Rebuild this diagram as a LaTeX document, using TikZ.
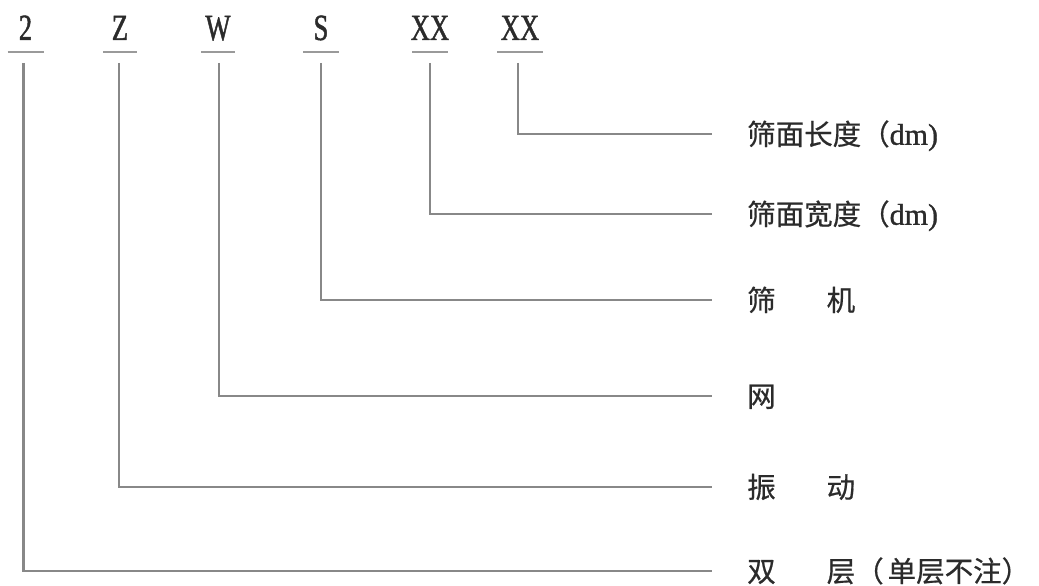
\documentclass[tikz,border=0pt]{standalone}
\usepackage{fontspec}
\newfontfamily\cjk[FakeBold=0.6]{Noto Sans CJK SC}
\newfontfamily\codefont[FakeStretch=0.72,FakeBold=1.2]{Liberation Serif}
\newfontfamily\latfont[FakeBold=1]{Liberation Serif}
\usetikzlibrary{calc}
\definecolor{txt}{HTML}{2B2B2B}
\definecolor{ln}{HTML}{888888}
\definecolor{ul}{HTML}{9A9A9A}
\begin{document}
\begin{tikzpicture}[x=1pt,y=-1pt,
  code/.style={font=\codefont\fontsize{37}{37}\selectfont, text=txt, inner sep=0pt, text height=25pt, text depth=0pt, anchor=center},
  lab/.style={font=\cjk\fontsize{28.5}{28.5}\selectfont, text=txt, inner sep=0pt, anchor=west, text height=25pt, text depth=3.5pt},
  uline/.style={draw=ul, line width=1.8pt},
  conn/.style={draw=ln, line width=2.3pt}]
\useasboundingbox (0,0) rectangle (1039,586);
% code letters
\node[code] (c1) at (25.5,27.5) {2};
\node[code] (c2) at (120,27.5) {Z};
\node[code] (c3) at (218,27.5) {W};
\node[code] (c4) at (321,27.5) {S};
\node[code] (c5) at (430,27.5) {XX};
\node[code] (c6) at (520,27.5) {XX};
% underlines
\foreach \c/\w in {c1/18,c2/17,c3/17,c4/18,c5/18,c6/23}{
  \draw[uline] ($(\c.center)+(-\w,24.5)$) -- ($(\c.center)+(\w,24.5)$);
}
% labels
\node[lab] (l6) at (747,134) {筛面长度（{\latfont\fontsize{30}{30}\selectfont dm)}};
\node[lab] (l5) at (747,214) {筛面宽度（{\latfont\fontsize{30}{30}\selectfont dm)}};
\node[lab] (l4) at (747,300) {筛\hspace{51pt}机};
\node[lab] (l3) at (747,396) {网};
\node[lab] (l2) at (747,487) {振\hspace{51pt}动};
\node[lab] (l1) at (747,571) {双\hspace{51pt}层（\hspace{4pt}单层不注）};
% connectors
\draw[conn] ($(c1.center)+(-2,35.5)$) |- ([xshift=-35pt]l1.west);
\draw[conn] ($(c2.center)+(-1,35.5)$) |- ([xshift=-35pt]l2.west);
\draw[conn] ($(c3.center)+(1,35.5)$) |- ([xshift=-35pt]l3.west);
\draw[conn] ($(c4.center)+(0,35.5)$) |- ([xshift=-35pt]l4.west);
\draw[conn] ($(c5.center)+(0,35.5)$) |- ([xshift=-35pt]l5.west);
\draw[conn] ($(c6.center)+(-2,35.5)$) |- ([xshift=-35pt]l6.west);
\end{tikzpicture}
\end{document}
